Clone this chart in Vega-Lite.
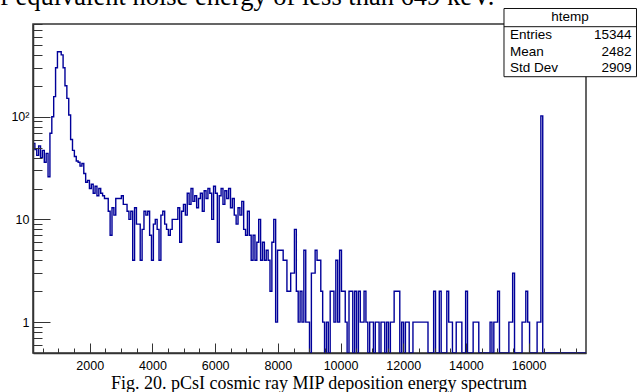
{
  "$schema": "https://vega.github.io/schema/vega-lite/v6.json",
  "width": 553,
  "height": 329,
  "autosize": "none",
  "padding": {"left": 33, "top": 24, "right": 53, "bottom": 39},
  "background": "white",
  "config": {"view": {"stroke": "#333", "strokeWidth": 1.5}, "font": "Liberation Sans"},
  "title": {"text": "f equivalent noise energy of less than 649 keV.", "anchor": "start", "frame": "group", "orient": "top", "offset": 0, "baseline": "alphabetic", "dx": -33, "dy": 23, "font": "Liberation Serif", "fontSize": 26.5, "fontWeight": "normal", "color": "#000"},
  "resolve": {"scale": {"x": "independent", "y": "independent"}},
  "layer": [
    {
      "data": {"values": [
        {"e":190,"n":55},{"e":250,"n":48},{"e":310,"n":42},{"e":370,"n":52},{"e":430,"n":40},{"e":490,"n":47},{"e":550,"n":36},{"e":610,"n":44},{"e":670,"n":26},{"e":730,"n":69},
        {"e":790,"n":100},{"e":850,"n":157},{"e":910,"n":300},{"e":970,"n":430},{"e":1030,"n":430},{"e":1090,"n":400},{"e":1150,"n":300},{"e":1210,"n":200},{"e":1270,"n":151},{"e":1330,"n":104},
        {"e":1390,"n":60},{"e":1450,"n":47},{"e":1510,"n":41},{"e":1570,"n":37},{"e":1630,"n":36},{"e":1690,"n":33},{"e":1750,"n":35},{"e":1810,"n":28},{"e":1870,"n":23},{"e":1930,"n":24},
        {"e":1990,"n":20},{"e":2050,"n":22},{"e":2110,"n":18},{"e":2170,"n":21},{"e":2230,"n":17},{"e":2290,"n":20},{"e":2350,"n":18},{"e":2410,"n":17},{"e":2470,"n":16},{"e":2530,"n":16},
        {"e":2590,"n":12},{"e":2650,"n":7},{"e":2710,"n":13},{"e":2770,"n":11},{"e":2830,"n":16},{"e":2890,"n":16},{"e":2950,"n":16},{"e":3010,"n":17},{"e":3070,"n":14},{"e":3130,"n":14},
        {"e":3190,"n":12},{"e":3250,"n":10},{"e":3310,"n":12},{"e":3370,"n":4},{"e":3430,"n":13},{"e":3490,"n":9},{"e":3550,"n":9},{"e":3610,"n":4},{"e":3670,"n":8},{"e":3730,"n":12},
        {"e":3790,"n":11},{"e":3850,"n":12},{"e":3910,"n":7},{"e":3970,"n":4},{"e":4030,"n":9},{"e":4090,"n":10},{"e":4150,"n":8},{"e":4210,"n":4},{"e":4270,"n":11},{"e":4330,"n":12},
        {"e":4390,"n":9},{"e":4450,"n":8},{"e":4510,"n":7},{"e":4570,"n":8},{"e":4630,"n":10},{"e":4690,"n":10},{"e":4750,"n":10},{"e":4810,"n":13},{"e":4870,"n":6},{"e":4930,"n":12},
        {"e":4990,"n":14},{"e":5050,"n":11},{"e":5110,"n":18},{"e":5170,"n":14},{"e":5230,"n":20},{"e":5290,"n":15},{"e":5350,"n":17},{"e":5410,"n":13},{"e":5470,"n":16},{"e":5530,"n":18},
        {"e":5590,"n":12},{"e":5650,"n":19},{"e":5710,"n":16},{"e":5770,"n":20},{"e":5830,"n":18},{"e":5890,"n":10},{"e":5950,"n":21},{"e":6010,"n":18},{"e":6070,"n":6},{"e":6130,"n":17},
        {"e":6190,"n":20},{"e":6250,"n":14},{"e":6310,"n":19},{"e":6370,"n":16},{"e":6430,"n":20},{"e":6490,"n":13},{"e":6550,"n":16},{"e":6610,"n":11},{"e":6670,"n":9},{"e":6730,"n":13},
        {"e":6790,"n":11},{"e":6850,"n":15},{"e":6910,"n":8},{"e":6970,"n":7},{"e":7030,"n":12},{"e":7090,"n":7},{"e":7150,"n":4},{"e":7210,"n":7},{"e":7270,"n":4},{"e":7330,"n":6},
        {"e":7390,"n":10},{"e":7450,"n":4},{"e":7510,"n":6},{"e":7570,"n":4},{"e":7630,"n":5},{"e":7690,"n":4},{"e":7750,"n":2},{"e":7810,"n":6},{"e":7870,"n":10},{"e":7930,"n":1},
        {"e":7990,"n":5},{"e":8050,"n":5},{"e":8110,"n":5},{"e":8170,"n":4},{"e":8230,"n":4},{"e":8290,"n":2},{"e":8350,"n":2},{"e":8410,"n":3},{"e":8470,"n":3},{"e":8530,"n":8},
        {"e":8590,"n":2},{"e":8650,"n":1},{"e":8710,"n":2},{"e":8770,"n":1},{"e":8830,"n":5},{"e":8890,"n":1},{"e":8950,"n":1},{"e":9010,"n":0},{"e":9070,"n":3},{"e":9130,"n":3},
        {"e":9190,"n":5},{"e":9250,"n":4},{"e":9310,"n":4},{"e":9370,"n":2},{"e":9430,"n":1},{"e":9490,"n":0},{"e":9550,"n":1},{"e":9610,"n":0},{"e":9670,"n":2},{"e":9730,"n":2},
        {"e":9790,"n":1},{"e":9850,"n":4},{"e":9910,"n":1},{"e":9970,"n":5},{"e":10030,"n":2},{"e":10090,"n":2},{"e":10150,"n":1},{"e":10210,"n":0},{"e":10270,"n":2},{"e":10330,"n":2},
        {"e":10390,"n":0},{"e":10450,"n":2},{"e":10510,"n":0},{"e":10570,"n":2},{"e":10630,"n":1},{"e":10690,"n":1},{"e":10750,"n":2},{"e":10810,"n":1},{"e":10870,"n":0},{"e":10930,"n":1},
        {"e":10990,"n":1},{"e":11050,"n":0},{"e":11110,"n":1},{"e":11170,"n":1},{"e":11230,"n":0},{"e":11290,"n":1},{"e":11350,"n":1},{"e":11410,"n":0},{"e":11470,"n":1},{"e":11530,"n":0},
        {"e":11590,"n":1},{"e":11650,"n":1},{"e":11710,"n":2},{"e":11770,"n":2},{"e":11830,"n":2},{"e":11890,"n":0},{"e":11950,"n":1},{"e":12010,"n":0},{"e":12070,"n":1},{"e":12130,"n":1},
        {"e":12190,"n":0},{"e":12250,"n":0},{"e":12310,"n":1},{"e":12370,"n":1},{"e":12430,"n":1},{"e":12490,"n":1},{"e":12550,"n":1},{"e":12610,"n":1},{"e":12670,"n":1},{"e":12730,"n":1},
        {"e":12790,"n":0},{"e":12850,"n":0},{"e":12910,"n":0},{"e":12970,"n":2},{"e":13030,"n":0},{"e":13090,"n":0},{"e":13150,"n":2},{"e":13210,"n":0},{"e":13270,"n":0},{"e":13330,"n":0},
        {"e":13390,"n":2},{"e":13450,"n":1},{"e":13510,"n":1},{"e":13570,"n":0},{"e":13630,"n":0},{"e":13690,"n":1},{"e":13750,"n":1},{"e":13810,"n":1},{"e":13870,"n":0},{"e":13930,"n":0},
        {"e":13990,"n":2},{"e":14050,"n":0},{"e":14110,"n":0},{"e":14170,"n":0},{"e":14230,"n":1},{"e":14290,"n":1},{"e":14350,"n":1},{"e":14410,"n":0},{"e":14470,"n":0},{"e":14530,"n":0},
        {"e":14590,"n":0},{"e":14650,"n":0},{"e":14710,"n":0},{"e":14770,"n":1},{"e":14830,"n":0},{"e":14890,"n":1},{"e":14950,"n":1},{"e":15010,"n":2},{"e":15070,"n":0},{"e":15130,"n":0},
        {"e":15190,"n":0},{"e":15250,"n":0},{"e":15310,"n":0},{"e":15370,"n":1},{"e":15430,"n":1},{"e":15490,"n":3},{"e":15550,"n":0},{"e":15610,"n":0},{"e":15670,"n":0},{"e":15730,"n":0},
        {"e":15790,"n":1},{"e":15850,"n":1},{"e":15910,"n":2},{"e":15970,"n":1},{"e":16030,"n":0},{"e":16090,"n":0},{"e":16150,"n":0},{"e":16210,"n":0},{"e":16270,"n":1},{"e":16330,"n":1},
        {"e":16390,"n":102},{"e":16450,"n":0},{"e":16510,"n":0},{"e":16570,"n":0},{"e":16630,"n":0},{"e":16690,"n":0},{"e":16750,"n":0},{"e":16810,"n":0},{"e":16870,"n":0},{"e":16930,"n":0},
        {"e":16990,"n":0},{"e":17050,"n":0},{"e":17110,"n":0},{"e":17170,"n":0},{"e":17230,"n":0},{"e":17290,"n":0},{"e":17350,"n":0},{"e":17410,"n":0},{"e":17470,"n":0},{"e":17530,"n":0},
        {"e":17590,"n":0},{"e":17650,"n":0},{"e":17710,"n":0},{"e":17770,"n":0},{"e":17830,"n":0}
      ]},
      "mark": {"type": "line", "interpolate": "step-after", "color": "#000099", "strokeWidth": 1.4, "clip": true, "invalid": "show"},
      "encoding": {
        "x": {"field": "e", "type": "quantitative",
          "scale": {"domain": [190, 17830], "nice": false, "zero": false},
          "axis": {
            "values": [500,1000,1500,2000,2500,3000,3500,4000,4500,5000,5500,6000,6500,7000,7500,8000,8500,9000,9500,10000,10500,11000,11500,12000,12500,13000,13500,14000,14500,15000,15500,16000,16500,17000,17500],
            "labelExpr": "datum.value % 2000 === 0 ? format(datum.value, 'd') : ''",
            "tickSize": {"condition": {"test": "datum.value % 2000 === 0", "value": -10}, "value": -5},
            "tickColor": "#333", "tickWidth": 1,
            "domain": true, "domainColor": "#333", "domainWidth": 1.5,
            "grid": false, "zindex": 1,
            "labelFontSize": 12.5, "labelColor": "#000", "labelPadding": 16,
            "labelFlush": false, "labelOverlap": false, "labelBound": false,
            "title": "Fig. 20. pCsI cosmic ray MIP deposition energy spectrum",
            "titleFont": "Liberation Serif", "titleFontSize": 18, "titleFontWeight": "normal", "titleColor": "#000",
            "titleX": 285.5, "titleY": 35, "titleBaseline": "alphabetic", "titleAlign": "center", "titleAnchor": null
          }
        },
        "y": {"field": "n", "type": "quantitative",
          "scale": {"type": "log", "domain": [0.5, 800], "clamp": true, "nice": false},
          "axis": {
            "values": [0.6,0.7,0.8,0.9,1,2,3,4,5,6,7,8,9,10,20,30,40,50,60,70,80,90,100,200,300,400,500,600,700,800],
            "labelExpr": "datum.value === 1 ? '1' : datum.value === 10 ? '10' : datum.value === 100 ? '10²' : ''",
            "tickSize": {"condition": {"test": "datum.value === 1 || datum.value === 10 || datum.value === 100", "value": -17}, "value": -9},
            "tickColor": "#333", "tickWidth": 1,
            "domain": true, "domainColor": "#333", "domainWidth": 1.5,
            "grid": false, "zindex": 1,
            "labelFontSize": 12.5, "labelColor": "#000", "labelPadding": 21,
            "labelFlush": false, "labelOverlap": false, "labelBound": false,
            "title": null
          }
        }
      }
    },
    {
      "data": {"values": [{"name": "htemp"}]},
      "layer": [
        {
          "mark": {"type": "rect", "fill": "white", "stroke": "#111", "strokeWidth": 1},
          "encoding": {
            "x": {"datum": 0.8517, "type": "quantitative", "scale": {"domain": [0, 1], "nice": false, "zero": false}, "axis": null},
            "x2": {"datum": 1.0913},
            "y": {"datum": 1.0471, "type": "quantitative", "scale": {"domain": [0, 1], "nice": false, "zero": false}, "axis": null},
            "y2": {"datum": 0.8398}
          }
        },
        {
          "mark": {"type": "rule", "stroke": "#111", "strokeWidth": 1},
          "encoding": {
            "x": {"datum": 0.8517, "type": "quantitative", "scale": {"domain": [0, 1], "nice": false, "zero": false}, "axis": null},
            "x2": {"datum": 1.0913},
            "y": {"datum": 0.9918, "type": "quantitative", "scale": {"domain": [0, 1], "nice": false, "zero": false}, "axis": null}
          }
        },
        {
          "mark": {"type": "text", "fontSize": 13.5, "align": "center", "baseline": "middle", "color": "#000"},
          "encoding": {
            "x": {"datum": 0.9711, "type": "quantitative", "scale": {"domain": [0, 1], "nice": false, "zero": false}, "axis": null},
            "y": {"datum": 1.0198, "type": "quantitative", "scale": {"domain": [0, 1], "nice": false, "zero": false}, "axis": null},
            "text": {"field": "name"}
          }
        },
        {
          "mark": {"type": "text", "fontSize": 13.5, "align": "left", "baseline": "middle", "color": "#000", "text": "Entries"},
          "encoding": {
            "x": {"datum": 0.8626, "type": "quantitative", "scale": {"domain": [0, 1], "nice": false, "zero": false}, "axis": null},
            "y": {"datum": 0.9657, "type": "quantitative", "scale": {"domain": [0, 1], "nice": false, "zero": false}, "axis": null}
          }
        },
        {
          "mark": {"type": "text", "fontSize": 13.5, "align": "left", "baseline": "middle", "color": "#000", "text": "Mean"},
          "encoding": {
            "x": {"datum": 0.8626, "type": "quantitative", "scale": {"domain": [0, 1], "nice": false, "zero": false}, "axis": null},
            "y": {"datum": 0.9158, "type": "quantitative", "scale": {"domain": [0, 1], "nice": false, "zero": false}, "axis": null}
          }
        },
        {
          "mark": {"type": "text", "fontSize": 13.5, "align": "left", "baseline": "middle", "color": "#000", "text": "Std Dev"},
          "encoding": {
            "x": {"datum": 0.8626, "type": "quantitative", "scale": {"domain": [0, 1], "nice": false, "zero": false}, "axis": null},
            "y": {"datum": 0.8653, "type": "quantitative", "scale": {"domain": [0, 1], "nice": false, "zero": false}, "axis": null}
          }
        },
        {
          "mark": {"type": "text", "fontSize": 13.5, "align": "right", "baseline": "middle", "color": "#000", "text": "15344"},
          "encoding": {
            "x": {"datum": 1.0823, "type": "quantitative", "scale": {"domain": [0, 1], "nice": false, "zero": false}, "axis": null},
            "y": {"datum": 0.9657, "type": "quantitative", "scale": {"domain": [0, 1], "nice": false, "zero": false}, "axis": null}
          }
        },
        {
          "mark": {"type": "text", "fontSize": 13.5, "align": "right", "baseline": "middle", "color": "#000", "text": "2482"},
          "encoding": {
            "x": {"datum": 1.0823, "type": "quantitative", "scale": {"domain": [0, 1], "nice": false, "zero": false}, "axis": null},
            "y": {"datum": 0.9158, "type": "quantitative", "scale": {"domain": [0, 1], "nice": false, "zero": false}, "axis": null}
          }
        },
        {
          "mark": {"type": "text", "fontSize": 13.5, "align": "right", "baseline": "middle", "color": "#000", "text": "2909"},
          "encoding": {
            "x": {"datum": 1.0823, "type": "quantitative", "scale": {"domain": [0, 1], "nice": false, "zero": false}, "axis": null},
            "y": {"datum": 0.8653, "type": "quantitative", "scale": {"domain": [0, 1], "nice": false, "zero": false}, "axis": null}
          }
        }
      ]
    }
  ]
}
